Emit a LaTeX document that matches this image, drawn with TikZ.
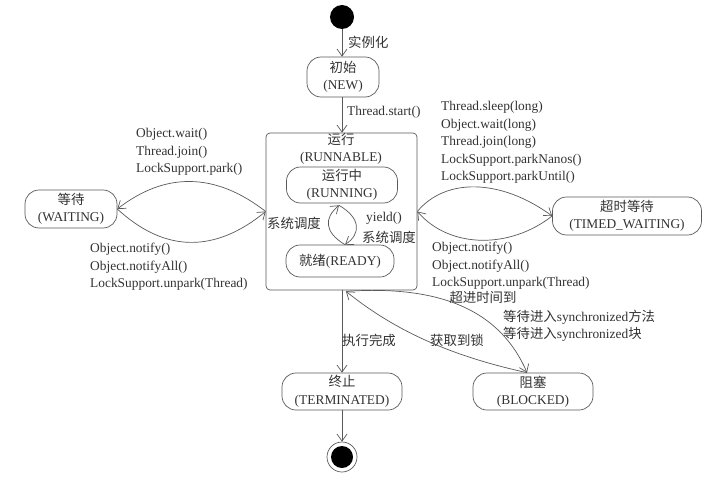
\documentclass[tikz,border=0pt]{standalone}
\usepackage{fontspec}
\setmainfont{Liberation Serif}
\newfontfamily\cjk{Noto Sans CJK SC}
\usetikzlibrary{arrows.meta,calc}
\definecolor{ln}{HTML}{5A5A5A}
\definecolor{tx}{HTML}{333333}
\begin{document}
\begin{tikzpicture}[x=1pt,y=-1pt,
  font=\fontsize{13.4}{17.5}\selectfont, text=tx,
  state/.style={draw=ln, line width=0.7pt, rounded corners=14pt, align=center, inner sep=0pt},
  lbl/.style={inner sep=0pt, align=left},
  arr/.style={draw=ln, line width=0.7pt, -{Straight Barb[length=7pt,width=10pt]}}]
\useasboundingbox (0,0) rectangle (708,476);
\fill[white] (0,0) rectangle (708,476);

% states
\node[circle, fill=black, minimum size=24pt, inner sep=0pt] (start) at (342,17) {};
\node[state, minimum width=72pt, minimum height=40pt] (new) at (343,77) {{\cjk 初始}\\(NEW)};
\node[draw=ln, line width=0.7pt, rounded corners=4pt, minimum width=151pt, minimum height=157pt, inner sep=0pt] (runnable) at (341.5,211.5) {};
\node[lbl, align=center] (runlbl) at (341,149) {{\cjk 运行}\\(RUNNABLE)};
\node[state, minimum width=111pt, minimum height=36pt] (running) at (342,185) {{\cjk 运行中}\\(RUNNING)};
\node[state, minimum width=108pt, minimum height=32pt] (ready) at (340,261) {{\cjk 就绪}(READY)};
\node[state, minimum width=92pt, minimum height=38pt] (waiting) at (71,209) {{\cjk 等待}\\(WAITING)};
\node[state, minimum width=149pt, minimum height=38pt] (timed) at (627,216) {{\cjk 超时等待}\\(TIMED\_WAITING)};
\node[state, minimum width=120pt, minimum height=37pt] (terminated) at (342,391.5) {{\cjk 终止}\\(TERMINATED)};
\node[state, minimum width=120pt, minimum height=37pt] (blocked) at (533,391.5) {{\cjk 阻塞}\\(BLOCKED)};
\node[circle, draw=ln, line width=0.7pt, minimum size=30pt, inner sep=0pt] (end) at (342,457) {};
\fill[black] (end.center) circle (11pt);

% connectors
\draw[arr] (start.south) -- (start.south |- new.north);
\draw[arr] (new.south -| start) -- (runnable.north -| start);
\draw[arr] (runnable.south -| terminated) -- (terminated.north);
\draw[arr] (terminated.south) -- (end.north);

\draw[arr] (runnable.west) .. controls (215,172) and (165,172) .. (waiting.east);
\draw[arr] (waiting.east) .. controls (165,253) and (215,253) .. (runnable.west);

\draw[arr] (runnable.east) .. controls (445,178) and (500,178) .. (timed.west);
\draw[arr] (timed.west) .. controls (510,249) and (450,249) .. (runnable.east);

\coordinate (lt) at ($(running.south)+(-3,2)$);
\coordinate (lb) at ($(ready.north)+(5,0)$);
\draw[arr] (lb) .. controls (324,232) and (324,218) .. (lt);
\draw[arr] (lt) .. controls (361,218) and (361,234) .. (lb);

\coordinate (rb) at ($(runnable.south)+(4.5,1)$);
\coordinate (bt) at ($(blocked.north)+(-6,0)$);
\draw[arr] (rb) .. controls (440,285) and (500,310) .. (bt);
\draw[arr] (bt) .. controls (460,358) and (400,335) .. (rb);

% labels
\node[lbl, anchor=west] (linst) at (348,42) {\cjk 实例化};
\node[lbl, anchor=west] (lstart) at (347,112) {Thread.start()};
\node[lbl, anchor=west] (lwait) at (136,152) {Object.wait()\\Thread.join()\\LockSupport.park()};
\node[lbl, anchor=west] (lnotify) at (90,267) {Object.notify()\\Object.notifyAll()\\LockSupport.unpark(Thread)};
\node[lbl, anchor=west] (lsleep) at (441,142.5) {Thread.sleep(long)\\Object.wait(long)\\Thread.join(long)\\LockSupport.parkNanos()\\LockSupport.parkUntil()};
\node[lbl, anchor=west] (lnotifyb) at (432,266) {Object.notify()\\Object.notifyAll()\\LockSupport.unpark(Thread)};
\node[lbl] (lsysa) at (294,223) {\cjk 系统调度};
\node[lbl] (lyield) at (384,218) {yield()};
\node[lbl] (lsysb) at (389,237) {\cjk 系统调度};
\node[lbl] (ldone) at (369,340) {\cjk 执行完成};
\node[lbl] (llock) at (457,340) {\cjk 获取到锁};
\node[lbl] (ltimeout) at (483,297) {\cjk 超进时间到};
\node[lbl, anchor=west] (lsync) at (503,326) {{\cjk 等待进入}synchronized{\cjk 方法}\\{\cjk 等待进入}synchronized{\cjk 块}};
\end{tikzpicture}
\end{document}
